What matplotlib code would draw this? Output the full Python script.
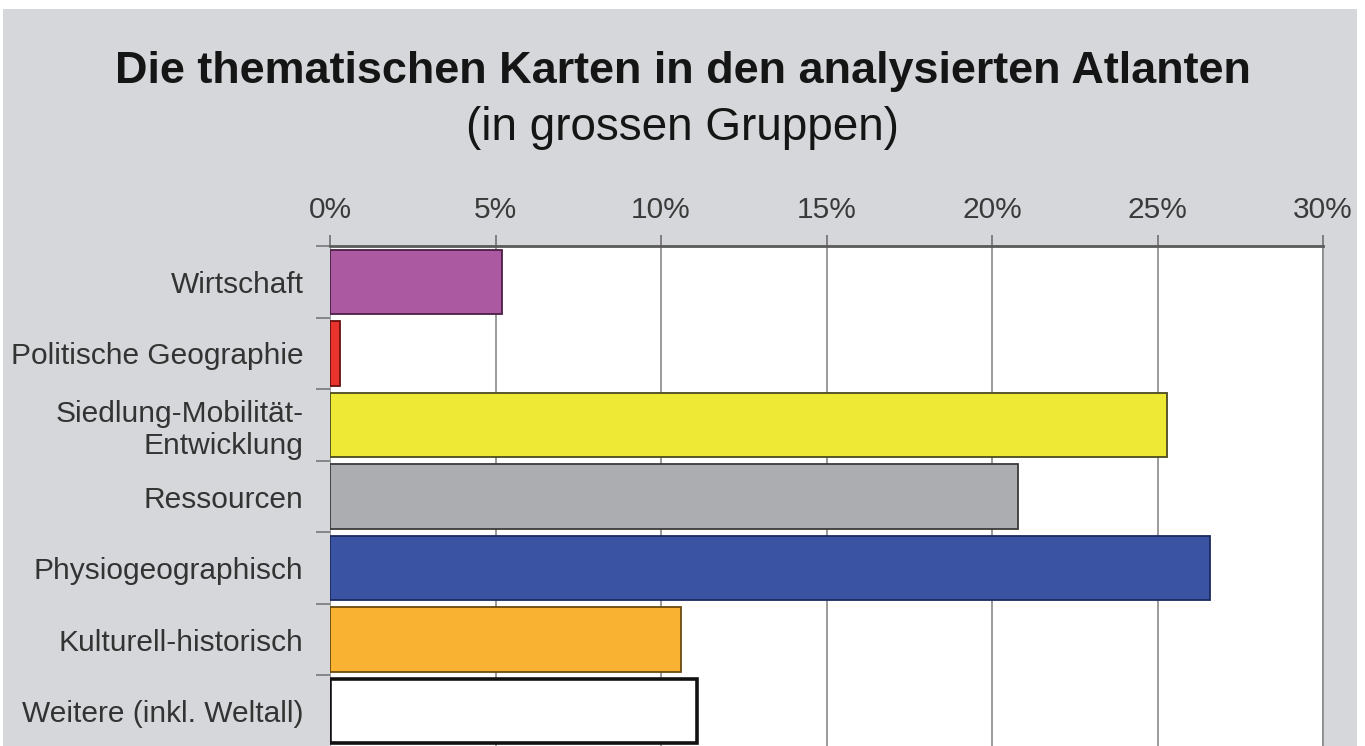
import matplotlib
matplotlib.use("Agg")
import matplotlib.pyplot as plt
from matplotlib.patches import Rectangle
from matplotlib.ticker import FixedLocator, FuncFormatter

plt.rcParams['font.family'] = ['Liberation Sans', 'DejaVu Sans']

categories = [
    "Wirtschaft",
    "Politische Geographie",
    "Siedlung-Mobilität-\nEntwicklung",
    "Ressourcen",
    "Physiogeographisch",
    "Kulturell-historisch",
    "Weitere (inkl. Weltall)",
]
shares = [5.2, 0.3, 25.3, 20.8, 26.6, 10.6, 11.1]
x_ticks = [0, 5, 10, 15, 20, 25, 30]

fill_colors = ["#ab5aa2", "#e8342c", "#eee934", "#abadb0", "#3b53a3", "#fab232", "#ffffff"]
edge_colors = ["#4a1f45", "#6a1010", "#4a4a20", "#3a3a3a", "#1d2a5e", "#6a4a10", "#111111"]
edge_widths = [1.3, 1.3, 1.3, 1.3, 1.3, 1.3, 2.6]

W, H = 1365, 746
fig = plt.figure(figsize=(W / 100, H / 100), dpi=100)
fig.patch.set_facecolor("white")

# grey panel behind the chart
panel = Rectangle((3 / W, 0), (1357 - 3) / W, (H - 9) / H,
                  transform=fig.transFigure, facecolor="#d5d7da",
                  edgecolor="none", zorder=-10)
fig.add_artist(panel)

fig.text(683 / W, 1 - 72 / H, "Die thematischen Karten in den analysierten Atlanten",
         ha="center", va="center", fontsize=32.4, fontweight="bold", color="#151515")
fig.text(683 / W, 1 - 128 / H, "(in grossen Gruppen)",
         ha="center", va="center", fontsize=33, color="#151515")

ax = fig.add_axes([330 / W, -1 / H, (1323 - 330) / W, (747 - 246) / H])
ax.set_facecolor("white")

ypos = list(range(len(categories)))
ax.barh(ypos, shares, height=0.9, color=fill_colors, edgecolor=edge_colors,
        linewidth=edge_widths, zorder=3)

ax.set_xlim(0, 30)
ax.set_ylim(len(categories) - 0.5, -0.5)

ax.xaxis.tick_top()
ax.set_xticks(x_ticks)
ax.xaxis.set_major_formatter(FuncFormatter(lambda v, p: f"{v:.0f}%"))
ax.tick_params(axis="x", which="major", length=8, width=1.3, color="#777777",
               pad=8, labelsize=21.5, labelcolor="#3a3a3a")
ax.grid(axis="x", color="#8a8a8a", linewidth=1.2, zorder=1)
ax.set_axisbelow(True)

ax.set_yticks(ypos)
ax.set_yticklabels(categories)
ax.tick_params(axis="y", which="major", length=0, pad=19, labelsize=21.5,
               labelcolor="#333333")
ax.yaxis.set_minor_locator(FixedLocator([i - 0.5 for i in range(len(categories))]))
ax.tick_params(axis="y", which="minor", length=10, width=1.2, color="#777777",
               direction="out")
for lbl in ax.get_yticklabels():
    lbl.set_horizontalalignment("right")
    lbl.set_multialignment("right")

ax.spines["top"].set_color("#5a5a5a")
ax.spines["top"].set_linewidth(2)
ax.spines["left"].set_visible(False)
ax.spines["bottom"].set_visible(False)
ax.spines["right"].set_color("#8a8a8a")
ax.spines["right"].set_linewidth(1.2)

fig.savefig("out.png", dpi=100, facecolor=fig.get_facecolor())
